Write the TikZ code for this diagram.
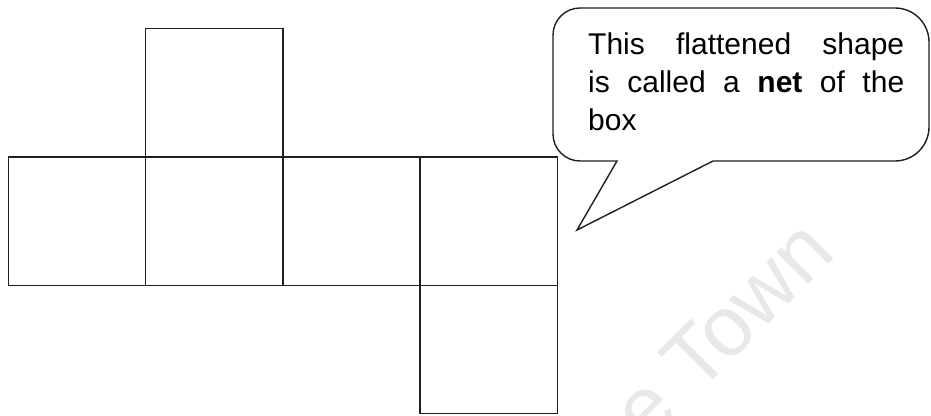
\documentclass[tikz,border=0pt]{standalone}
\usepackage{fontspec}
\setmainfont{Liberation Sans}
\begin{document}
\begin{tikzpicture}[x=1pt,y=-1pt,
  face/.style={draw=black!88,line width=1.4pt,minimum width=137.2pt,minimum height=128.4pt,inner sep=0pt},
  bubble/.style={draw=black!88,line width=1.4pt,line join=miter},
  btext/.style={inner sep=0pt,anchor=base west,font=\fontsize{30}{38}\selectfont},
  wmark/.style={text=black!9,font=\fontsize{85}{85}\selectfont,inner sep=0pt,anchor=base west,rotate=45}]
\useasboundingbox (0,0) rectangle (931,415);
% watermark
\begin{scope}
\clip (0,0) rectangle (931,415);
\node[wmark] (wm) at (647,446) {e Town};
\end{scope}
% net of the box
\node[face] (top)    at (214.3,92.7)  {};
\node[face] (left)   at (77.1,221)    {};
\node[face] (front)  at (214.3,221)   {};
\node[face] (right)  at (351.5,221)   {};
\node[face] (back)   at (488.7,221)   {};
\node[face] (bottom) at (488.7,349.4) {};
% speech bubble
\draw[bubble] (590,161) -- (617,161) -- (577,230) -- (713,161)
  [rounded corners=34pt] -- (929,161) -- (929,8) [rounded corners=27pt] -- (553,8) -- (553,161) -- (590,161);
\node[btext] (l1) at (588,54)  {\makebox[316pt][s]{This flattened shape}};
\node[btext] (l2) at (588,92)  {\makebox[316pt][s]{is called a \textbf{net} of the}};
\node[btext] (l3) at (588,130) {box};
\end{tikzpicture}
\end{document}
